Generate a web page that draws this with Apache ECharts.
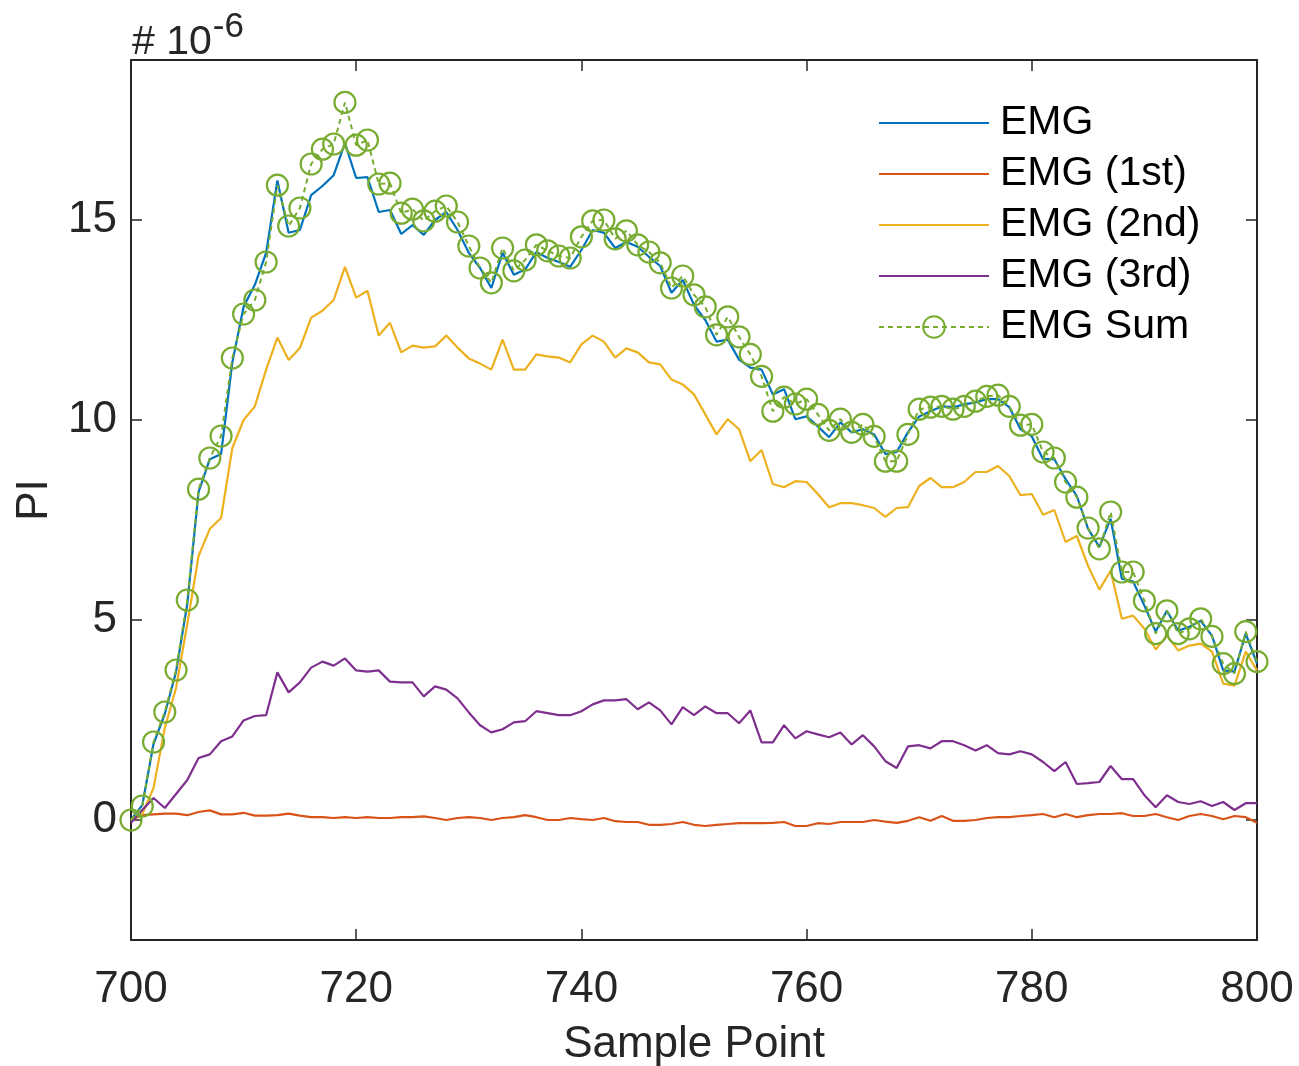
<!DOCTYPE html>
<html>
<head>
<meta charset="utf-8">
<script src="https://cdn.jsdelivr.net/npm/echarts@6/dist/echarts.min.js"></script>
<style>
  html, body { margin: 0; padding: 0; background: #fff; }
  #chart { width: 1299px; height: 1066px; }
</style>
</head>
<body>
<div id="chart"></div>
<script>
// Sample points 700..800 ; values in units of 1e-6
const samplePoints = Array.from({length: 101}, (_, i) => 700 + i);

const emg = [
  0, 0.37, 1.9, 2.65, 3.7, 5.4, 8.2, 9.02, 9.15, 11.44,
  12.83, 13.38, 14.18, 15.99, 14.68, 14.75, 15.62, 15.85, 16.12, 16.92,
  16.05, 16.07, 15.2, 15.25, 14.65, 14.87, 14.63, 15.0, 15.2, 14.75,
  14.18, 13.8, 13.3, 14.18, 13.63, 13.76, 14.2, 14.05, 13.95, 13.83,
  14.25, 14.75, 14.68, 14.3, 14.45, 14.33, 14.08, 13.85, 13.18, 13.5,
  12.88, 12.5, 11.96, 12.01, 11.51, 11.31, 11.26, 10.64, 10.77, 10.02,
  10.09, 9.84, 9.57, 9.94, 9.69, 9.77, 9.64, 9.15, 9.2, 9.69,
  10.09, 10.22, 10.34, 10.32, 10.39, 10.44, 10.52, 10.52, 10.32, 9.77,
  9.59, 9.02, 9.02, 8.52, 8.1, 7.28, 6.83, 7.53, 6.03, 5.96,
  5.36, 4.71, 5.23, 4.73, 4.83, 4.98, 4.61, 3.74, 3.71, 4.66,
  3.91
];

const emg1st = [
  0.0, 0.12, 0.14, 0.16, 0.16, 0.12, 0.2, 0.24, 0.14, 0.14,
  0.18, 0.11, 0.11, 0.12, 0.16, 0.11, 0.07, 0.07, 0.05, 0.07,
  0.05, 0.07, 0.05, 0.05, 0.07, 0.07, 0.09, 0.05, 0.0, 0.05,
  0.07, 0.05, 0.0, 0.05, 0.07, 0.12, 0.07, 0.0, 0.0, 0.05,
  0.02, 0.0, 0.05, -0.03, -0.05, -0.05, -0.12, -0.12, -0.1, -0.05,
  -0.12, -0.15, -0.12, -0.1, -0.08, -0.08, -0.08, -0.07, -0.05, -0.15,
  -0.15, -0.08, -0.1, -0.05, -0.05, -0.05, 0.0, -0.04, -0.07, -0.02,
  0.07, -0.02, 0.1, -0.02, -0.02, 0.0, 0.05, 0.07, 0.07, 0.1,
  0.12, 0.15, 0.07, 0.15, 0.07, 0.12, 0.15, 0.15, 0.17, 0.1,
  0.1, 0.15, 0.07, 0.0, 0.1, 0.15, 0.1, 0.02, 0.1, 0.07,
  -0.07
];

const emg2nd = [
  0, 0.15, 0.8, 2.3, 3.3, 4.9, 6.6, 7.28, 7.55, 9.3,
  10.0, 10.34, 11.26, 12.06, 11.5, 11.8, 12.56, 12.73, 13.0, 13.83,
  13.06, 13.23, 12.11, 12.43, 11.69, 11.86, 11.81, 11.84, 12.11, 11.81,
  11.54, 11.41, 11.26, 12.01, 11.26, 11.26, 11.64, 11.59, 11.56, 11.44,
  11.89, 12.11, 11.96, 11.56, 11.79, 11.69, 11.44, 11.39, 11.01, 10.89,
  10.64, 10.14, 9.64, 10.02, 9.77, 8.97, 9.25, 8.4, 8.32, 8.47,
  8.45, 8.15, 7.82, 7.92, 7.92, 7.87, 7.8, 7.58, 7.8, 7.82,
  8.35, 8.55, 8.32, 8.32, 8.45, 8.7, 8.7, 8.85, 8.6, 8.12,
  8.15, 7.63, 7.75, 6.95, 7.1, 6.35, 5.76, 6.23, 5.03, 5.11,
  4.78, 4.26, 4.61, 4.24, 4.36, 4.41, 4.21, 3.41, 3.36, 4.21,
  3.74
];

const emg3rd = [
  -0.07, 0.25, 0.55, 0.3, 0.65, 1.0, 1.55, 1.64, 1.97, 2.09,
  2.49, 2.6, 2.62, 3.69, 3.19, 3.44, 3.81, 3.96, 3.86, 4.04,
  3.74, 3.71, 3.74, 3.46, 3.44, 3.44, 3.09, 3.34, 3.26, 3.04,
  2.69, 2.37, 2.19, 2.27, 2.44, 2.47, 2.72, 2.67, 2.62, 2.62,
  2.72, 2.89, 2.99, 2.99, 3.02, 2.77, 2.94, 2.74, 2.39, 2.82,
  2.62, 2.84, 2.67, 2.67, 2.42, 2.74, 1.94, 1.94, 2.37, 2.04,
  2.22, 2.14, 2.07, 2.19, 1.89, 2.12, 1.84, 1.47, 1.3, 1.84,
  1.87, 1.79, 1.97, 1.97, 1.87, 1.74, 1.87, 1.67, 1.64, 1.72,
  1.64, 1.45, 1.22, 1.45, 0.9, 0.92, 0.95, 1.35, 1.02, 1.02,
  0.62, 0.32, 0.62, 0.45, 0.4, 0.47, 0.35, 0.45, 0.25, 0.42,
  0.42
];

const emgSum = [
  0, 0.35, 1.95, 2.7, 3.75, 5.5, 8.27, 9.05, 9.6, 11.55,
  12.65, 13.0, 13.95, 15.87, 14.85, 15.3, 16.4, 16.77, 16.9, 17.94,
  16.87, 17.0, 15.9, 15.92, 15.17, 15.27, 14.98, 15.22, 15.35, 14.95,
  14.35, 13.8, 13.43, 14.3, 13.73, 14.0, 14.38, 14.23, 14.1, 14.05,
  14.58, 14.98, 15.0, 14.53, 14.73, 14.38, 14.2, 13.93, 13.3, 13.6,
  13.13, 12.83, 12.13, 12.58, 12.08, 11.64, 11.09, 10.22, 10.57, 10.4,
  10.52, 10.14, 9.74, 10.02, 9.69, 9.89, 9.59, 8.97, 8.97, 9.64,
  10.27, 10.32, 10.34, 10.27, 10.34, 10.47, 10.59, 10.62, 10.34, 9.87,
  9.89, 9.2, 9.05, 8.45, 8.07, 7.3, 6.78, 7.7, 6.2, 6.2,
  5.48, 4.66, 5.23, 4.66, 4.78, 5.03, 4.59, 3.91, 3.66, 4.71,
  3.96
];

const xTicks = [700, 720, 740, 760, 780, 800];
const yTicks = [0, 5, 10, 15];
const seriesNames = ['EMG', 'EMG (1st)', 'EMG (2nd)', 'EMG (3rd)', 'EMG Sum'];
const seriesColors = ['#0072BD', '#D95319', '#EDB120', '#7E2F8E', '#77AC30'];

const pairs = arr => samplePoints.map((x, i) => [x, arr[i]]);

const FONT = '"Liberation Sans", Arial, Helvetica, sans-serif';
const AX = '#262626';

const chart = echarts.init(document.getElementById('chart'), null, {renderer: 'canvas'});

const lineSeries = (name, arr, color) => ({
  name, type: 'line', data: pairs(arr), xAxisIndex: 0, yAxisIndex: 0,
  symbol: 'circle', symbolSize: 1, showSymbol: false, smooth: false, animation: false,
  color: color,
  itemStyle: {color: color, opacity: 0},
  lineStyle: {color: color, width: 2.2}
});

const baseX = {
  type: 'value', min: 700, max: 800, interval: 20,
  axisLine: {show: true, onZero: false, lineStyle: {color: AX, width: 2}},
  axisTick: {show: true, inside: true, length: 11, lineStyle: {color: AX, width: 1.5}},
  splitLine: {show: false}
};
const baseY = {
  type: 'value', min: -3, max: 19,
  axisLine: {show: true, onZero: false, lineStyle: {color: AX, width: 2}},
  axisTick: {show: true, inside: true, length: 11, customValues: yTicks, lineStyle: {color: AX, width: 1.5}},
  splitLine: {show: false}
};

chart.setOption({
  animation: false,
  backgroundColor: '#ffffff',
  textStyle: {fontFamily: FONT},
  grid: {left: 131, right: 42, top: 60, bottom: 126, containLabel: false, outerBoundsMode: 'none'},
  graphic: [
    {
      type: 'text', left: 132, top: 10,
      style: {
        text: '# 10{s|-6}',
        rich: {s: {fontSize: 35, verticalAlign: 'top', padding: [0, 0, 30, 1], fontFamily: FONT, fill: AX}},
        fontSize: 41, fontFamily: FONT, fill: AX
      }
    }
  ],
  legend: {
    orient: 'vertical', left: 878, top: 100, padding: 0,
    itemWidth: 110, itemHeight: 27, itemGap: 5,
    data: seriesNames,
    textStyle: {fontSize: 41, lineHeight: 46, color: '#000', fontFamily: FONT, padding: [0, 0, 0, 6]},
    backgroundColor: 'transparent'
  },
  xAxis: [
    Object.assign({}, baseX, {
      position: 'bottom',
      axisLabel: {show: true, customValues: xTicks, margin: 28, fontSize: 44, color: AX, fontFamily: FONT},
      name: 'Sample Point', nameLocation: 'middle', nameGap: 83,
      nameTextStyle: {fontSize: 44, color: AX, fontFamily: FONT}
    }),
    Object.assign({}, baseX, {position: 'top', axisLabel: {show: false}})
  ],
  yAxis: [
    Object.assign({}, baseY, {
      position: 'left',
      axisLabel: {show: true, customValues: yTicks, margin: 14, fontSize: 44, color: AX, fontFamily: FONT},
      name: 'PI', nameLocation: 'middle', nameGap: 72, nameRotate: 90,
      nameTextStyle: {fontSize: 44, color: AX, fontFamily: FONT}
    }),
    Object.assign({}, baseY, {position: 'right', axisLabel: {show: false}})
  ],
  series: [
    lineSeries('EMG', emg, seriesColors[0]),
    lineSeries('EMG (1st)', emg1st, seriesColors[1]),
    lineSeries('EMG (2nd)', emg2nd, seriesColors[2]),
    lineSeries('EMG (3rd)', emg3rd, seriesColors[3]),
    {
      name: 'EMG Sum', type: 'line', data: pairs(emgSum), xAxisIndex: 0, yAxisIndex: 0,
      symbol: 'circle', symbolSize: 21, showSymbol: true, showAllSymbol: true, animation: false,
      clip: false,
      color: seriesColors[4],
      itemStyle: {color: 'rgba(0,0,0,0)', borderColor: seriesColors[4], borderWidth: 2.2},
      lineStyle: {color: seriesColors[4], width: 2, type: [5, 4]},
      z: 5
    }
  ]
});
</script>
</body>
</html>
